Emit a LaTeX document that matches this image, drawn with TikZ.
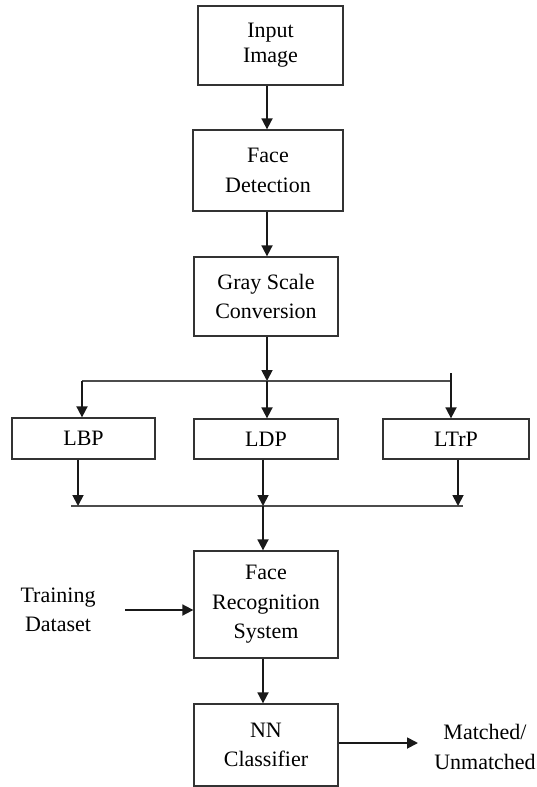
\documentclass[tikz,border=0pt]{standalone}
\usepackage{fontspec}
\setmainfont{Liberation Serif}
\usetikzlibrary{arrows.meta}
\begin{document}
\begin{tikzpicture}[x=1pt,y=-1pt,
  box/.style={draw=black!80,line width=1.3pt,inner sep=0pt,align=center,
    font=\fontsize{22}{29.5}\selectfont},
  lbl/.style={inner sep=0pt,align=center,font=\fontsize{22}{29.5}\selectfont},
  arr/.style={line width=1.8pt,draw=black!90,-{Triangle[length=11pt,width=11pt]}},
  ln/.style={line width=1.5pt,draw=black!70}]
\useasboundingbox (0,0) rectangle (536,787);
% boxes
\node[box,minimum width=145pt,minimum height=79pt,font=\fontsize{22}{25}\selectfont] (inp) at (270.5,45.5) {Input\\Image};
\node[box,minimum width=150pt,minimum height=81pt] (fd) at (268,170.5) {Face\\Detection};
\node[box,minimum width=144pt,minimum height=79pt] (gs) at (266,296.5) {Gray Scale\\Conversion};
\node[box,minimum width=143pt,minimum height=41pt] (lbp) at (83.5,438.5) {LBP};
\node[box,minimum width=144pt,minimum height=40pt] (ldp) at (266,439) {LDP};
\node[box,minimum width=146pt,minimum height=40pt] (ltrp) at (456,439) {LTrP};
\node[box,minimum width=144pt,minimum height=107pt] (fr) at (266,604.5) {Face\\Recognition\\System};
\node[box,minimum width=144pt,minimum height=82pt] (nn) at (266,745) {NN\\Classifier};
\node[lbl] (train) at (58,610) {Training\\Dataset};
\node[lbl] (match) at (485,747) {Matched/\\Unmatched};
% coordinates
\coordinate (c1) at (267,381);
\coordinate (b1) at (82,381);
\coordinate (b3) at (451,381);
\coordinate (b3t) at (451,373);
\coordinate (j0) at (71,506);
\coordinate (j1) at (78,506);
\coordinate (j2) at (263,506);
\coordinate (j3) at (458,506);
\coordinate (j4) at (463,506);
\coordinate (tin) at (125,610);
\coordinate (mout) at (418,743);
% connectors
\draw[arr] (inp.south -| c1) -- (fd.north -| c1);
\draw[arr] (fd.south -| c1) -- (gs.north -| c1);
\draw[arr] (gs.south -| c1) -- (c1);
\draw[ln] (b1) -- (b3);
\draw[arr] (b1) -- (lbp.north -| b1);
\draw[arr] (c1) -- (ldp.north -| c1);
\draw[arr] (b3t) -- (ltrp.north -| b3);
\draw[ln] (j0) -- (j4);
\draw[arr] (lbp.south -| j1) -- (j1);
\draw[arr] (ldp.south -| j2) -- (j2);
\draw[arr] (ltrp.south -| j3) -- (j3);
\draw[arr] (j2) -- (fr.north -| j2);
\draw[arr] (fr.south -| j2) -- (nn.north -| j2);
\draw[arr] (tin) -- (fr.west |- tin);
\draw[arr] (nn.east |- mout) -- (mout);
\end{tikzpicture}
\end{document}
